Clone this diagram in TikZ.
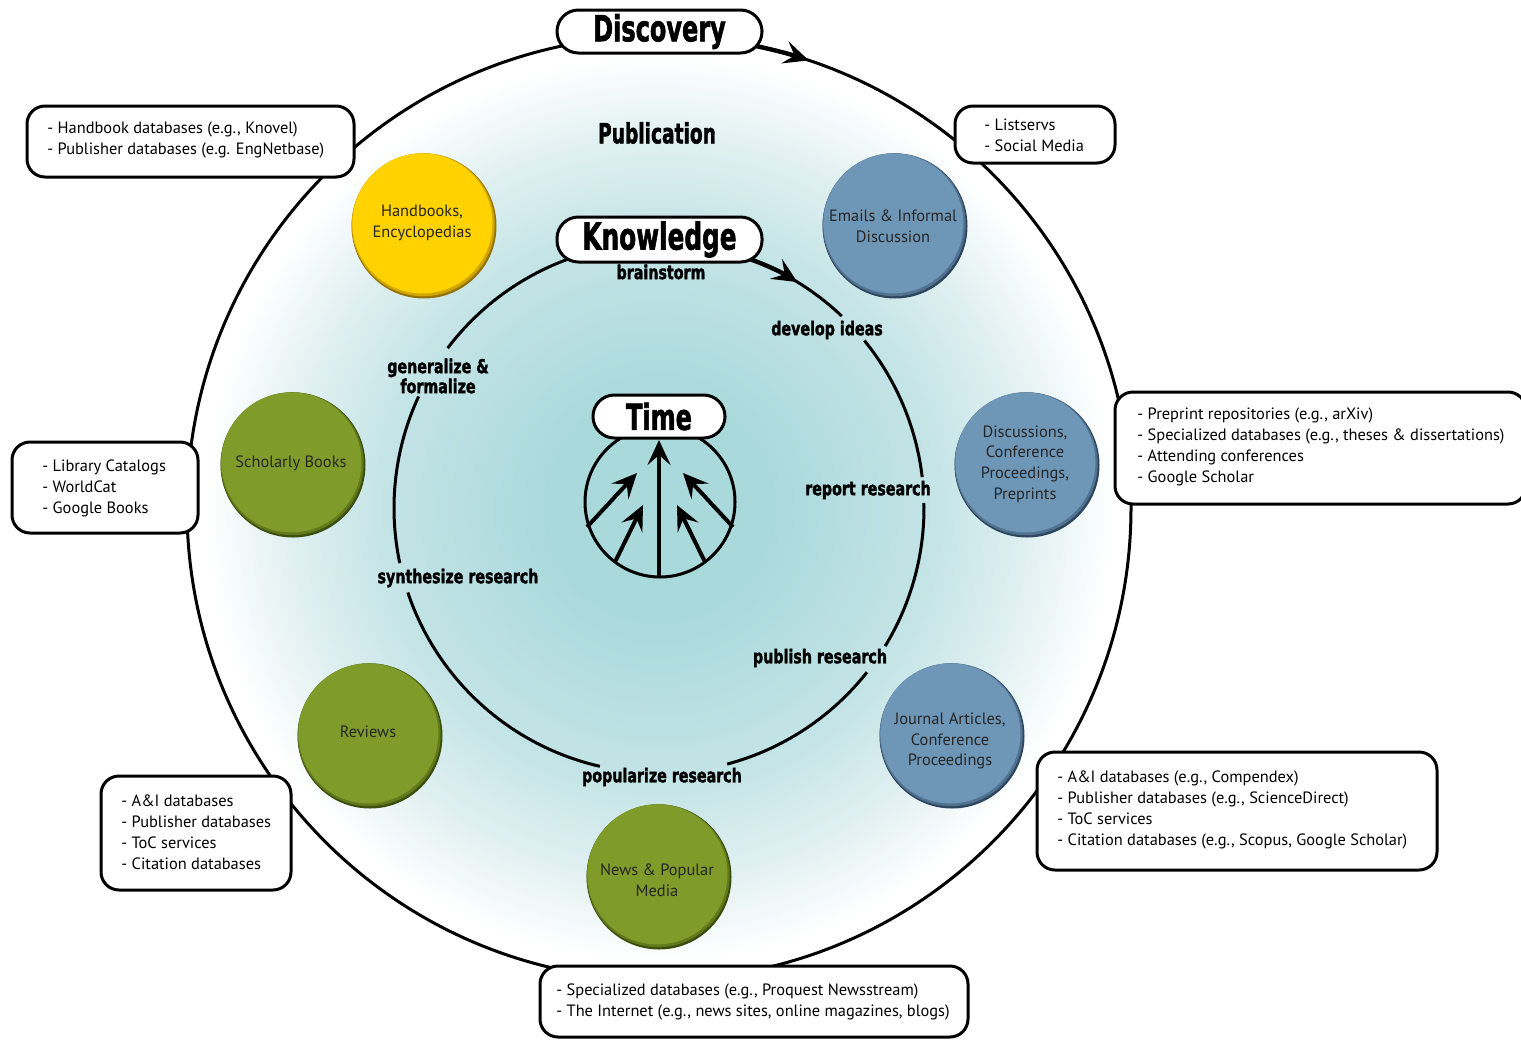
\documentclass[tikz,border=0pt]{standalone}
\usepackage{fontspec}
\usepackage{graphicx}
\setmainfont{PT Sans}
\newfontfamily\impf{DejaVu Sans}[BoldFeatures={FakeBold=2}]
\usetikzlibrary{arrows.meta}
\definecolor{bgA}{RGB}{170,217,220}
\definecolor{bgB}{RGB}{196,228,230}
\definecolor{bgC}{RGB}{224,240,241}
\definecolor{ycol}{RGB}{255,210,0}
\definecolor{ydark}{RGB}{150,115,0}
\definecolor{bcol}{RGB}{110,150,182}
\definecolor{bdark}{RGB}{45,70,95}
\definecolor{gcol}{RGB}{127,156,42}
\definecolor{gdark}{RGB}{60,78,12}
\pgfdeclareradialshading{bgshade}{\pgfpointorigin}{color(0bp)=(bgA); color(6bp)=(bgA); color(14.5bp)=(bgB); color(19.5bp)=(bgC); color(24bp)=(white); color(50bp)=(white)}
\newcommand\cond[2]{\scalebox{0.75}[1]{\fontsize{#1}{#1}\selectfont\impf\bfseries #2}}
\newcommand\bigc[2]{\scalebox{0.75}[1.12]{\fontsize{#1}{#1}\selectfont\impf\bfseries #2}}
\newcommand\bubble[3]{%
  \fill[#3] #1 circle[radius=72.5];
  \fill[#3!45!#2, shift={(-0.8,-1.3)}] #1 circle[radius=71.5];
  \fill[#2, shift={(-1.6,-2.6)}] #1 circle[radius=70];
}
\tikzset{
  ring/.style={line width=1.5pt},
  tbox/.style={draw, line width=1.5pt, fill=white, rounded corners=9pt},
  txt/.style={anchor=west, align=left, inner sep=0pt, font=\fontsize{8.2}{10.5}\selectfont},
  pill/.style={draw, line width=1.5pt, fill=white, rounded corners=10.7pt, inner sep=0pt},
  lab/.style={inner sep=0pt, align=center, font=\fontsize{9.5}{10}\selectfont},
  ctext/.style={align=center, inner sep=0pt, font=\fontsize{8.2}{10.3}\selectfont, text=black!85},
  tip/.style={-{Stealth[length=12.5pt,width=11.5pt,inset=5pt]}},
}
\begin{document}
\begin{tikzpicture}[x=0.5pt,y=-0.5pt]
\useasboundingbox (0,0) rectangle (1521,1039);
\clip (0,0) rectangle (1521,1039);
\coordinate (C) at (659,508);
% background
\shade[shading=bgshade] (C) circle[radius=472];
% outer cycle
\draw[ring] (C) circle[radius=472];
\draw[line width=2.2pt, tip] (C) ++(-79:472) arc[start angle=-79, end angle=-71.5, radius=472];
% inner cycle
\foreach \s/\e in {-142.9/-46.4, -39.2/-6.7, -1.1/31.4, 38.3/75.1, 102.9/161.4, 168/204.9}
  \draw[ring] (C) ++(\s:265) arc[start angle=\s, end angle=\e, radius=265];
\draw[line width=2.2pt, tip] (C) ++(-71:265) arc[start angle=-71, end angle=-58.5, radius=265];
% time
\coordinate (T) at (660,502);
\draw[ring] (T) circle[radius=75];
\draw[line width=2pt, tip] (659,577) -- (659,440);
\draw[line width=2pt, tip] (587,527) -- (637,473);
\draw[line width=2pt, tip] (615,562) -- (643,505);
\draw[line width=2pt, tip] (733,527) -- (683,473);
\draw[line width=2pt, tip] (705,562) -- (677,505);
% bubbles
\bubble{(424,226)}{ycol}{ydark}
\bubble{(895,226)}{bcol}{bdark}
\bubble{(293,465)}{gcol}{gdark}
\bubble{(1027,465)}{bcol}{bdark}
\bubble{(370,736)}{gcol}{gdark}
\bubble{(952,736)}{bcol}{bdark}
\bubble{(659,877)}{gcol}{gdark}
\node[ctext] (hb) at (422,223) {Handbooks,\\Encyclopedias};
\node[ctext] (em) at (893,226) {Emails \& Informal\\Discussion};
\node[ctext] (sb) at (291,463) {Scholarly Books};
\node[ctext] (dc) at (1025,464) {Discussions,\\Conference\\Proceedings,\\Preprints};
\node[ctext] (rv) at (368,732) {Reviews};
\node[ctext] (ja) at (950,741) {Journal Articles,\\Conference\\Proceedings};
\node[ctext] (nw) at (657,880) {News \& Popular\\Media};
% pills
\node[pill, minimum width=102.5pt, minimum height=21.5pt] (disc) at (659.5,31.5) {\bigc{16}{Discovery}};
\node[pill, minimum width=102.5pt, minimum height=22.5pt] (know) at (659.5,239.5) {\bigc{16.5}{Knowledge}};
\node[pill, minimum width=66pt, minimum height=21.5pt] (time) at (659,416.5) {\bigc{16}{Time}};
\node[lab] (pub) at (657,133) {\bigc{12.4}{Publication}};
% cycle labels
\node[lab] (l1) at (661,272) {\cond{9.5}{brainstorm}};
\node[lab] (l2) at (827,330) {\cond{9.5}{develop ideas}};
\node[lab] (l3) at (868,490) {\cond{9.5}{report research}};
\node[lab] (l4) at (820,658) {\cond{9.5}{publish research}};
\node[lab] (l5) at (662,777) {\cond{9.5}{popularize research}};
\node[lab] (l6) at (458,578) {\cond{9.5}{synthesize research}};
\node[lab] (l7) at (438,376) {\cond{9.5}{generalize \&}\\\cond{9.5}{formalize}};
% text boxes
\draw[tbox] (27,106) rectangle (354,177);
\node[txt] (b1) at (47,140) {- Handbook databases (e.g., Knovel)\\- Publisher databases (e.g. EngNetbase)};
\draw[tbox] (955,106) rectangle (1115,163);
\node[txt] (b2) at (984,135) {- Listservs\\- Social Media};
\draw[tbox] (12,442) rectangle (198,533);
\node[txt] (b3) at (42,488) {- Library Catalogs\\- WorldCat\\- Google Books};
\draw[tbox] (1115,392) rectangle (1526,504);
\node[txt] (b4) at (1137,447) {- Preprint repositories (e.g., arXiv)\\- Specialized databases (e.g., theses \& dissertations)\\- Attending conferences\\- Google Scholar};
\draw[tbox] (1037,752) rectangle (1437,870);
\node[txt] (b5) at (1057,810) {- A\&I databases (e.g., Compendex)\\- Publisher databases (e.g., ScienceDirect)\\- ToC services\\- Citation databases (e.g., Scopus, Google Scholar)};
\draw[tbox] (101,776) rectangle (291,890);
\node[txt] (b6) at (121,832) {- A\&I databases\\- Publisher databases\\- ToC services\\- Citation databases};
\draw[tbox] (540,966) rectangle (968,1037);
\node[txt] (b7) at (556,1002) {- Specialized databases (e.g., Proquest Newsstream)\\- The Internet (e.g., news sites, online magazines, blogs)};
\end{tikzpicture}
\end{document}
